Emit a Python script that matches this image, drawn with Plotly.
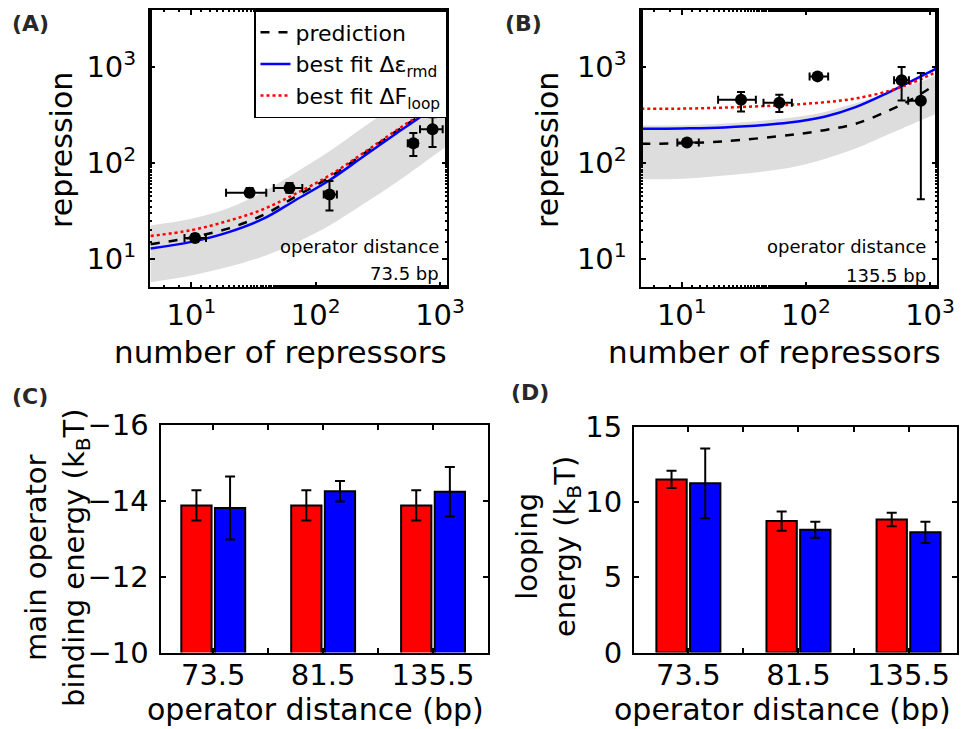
import plotly.graph_objects as go

# ---------------- data ----------------
# Panel A (operator distance 73.5 bp)
A_repressors = [10.7, 29.4, 61.5, 129, 610, 870]
A_repressors_lo = [8.8, 19, 46, 116, 550, 690]
A_repressors_hi = [13.1, 40, 78, 148, 660, 1050]
A_repression = [16.6, 49, 55, 47, 160, 224]
A_repression_lo = [15.2, 45, 49, 32, 118, 146]
A_repression_hi = [18.2, 55, 62, 65, 205, 299]

A_curve_n = [4.7, 10, 20, 38, 69, 129, 240, 447, 832, 1122]
A_pred = [14.3, 16.8, 20.9, 28.8, 44.7, 70.8, 123, 214, 367, 501]
A_pred_hi = [22.4, 26.3, 33.9, 50.1, 79.4, 132, 234, 398, 631, 794]
A_pred_lo = [5.75, 6.76, 8.32, 10.7, 14.8, 22.4, 37.2, 63.1, 112, 148]
A_fit_eps = [12.9, 15.1, 19.1, 26.3, 41.2, 66.1, 116, 204, 355, 490]
A_fit_loop = [17.4, 20.0, 25.1, 33.1, 47.9, 74.1, 126, 219, 372, 501]

# Panel B (operator distance 135.5 bp)
B_repressors = [11, 30, 61, 124, 590, 843]
B_repressors_lo = [9.2, 19.6, 45.5, 107, 513, 667]
B_repressors_hi = [13.7, 39.5, 77, 151, 676, 864]
B_repression = [163, 453, 422, 794, 725, 443]
B_repression_lo = [150, 342, 338, 740, 447, 42]
B_repression_hi = [175, 545, 513, 850, 993, 860]

B_curve_n = [4.7, 10, 22, 74, 141, 251, 468, 708, 1122]
B_pred = [158, 160, 168, 195, 219, 255, 351, 457, 661]
B_pred_hi = [245, 247, 257, 295, 339, 417, 537, 646, 813]
B_pred_lo = [67.6, 68.4, 74.1, 89.1, 110, 141, 200, 251, 324]
B_fit_eps = [226, 228, 234, 263, 302, 380, 545, 708, 955]
B_fit_loop = [366, 367, 376, 402, 427, 468, 562, 676, 881]

# Panels C and D
distances = ["73.5", "81.5", "135.5"]
C_red = [-13.88, -13.88, -13.88]
C_red_err = [0.40, 0.40, 0.40]
C_blue = [-13.81, -14.25, -14.24]
C_blue_err = [0.83, 0.27, 0.65]
D_red = [11.5, 8.73, 8.84]
D_red_err = [0.57, 0.64, 0.45]
D_blue = [11.24, 8.15, 7.98]
D_blue_err = [2.32, 0.53, 0.70]

log_ticks = [10, 100, 1000]
log_ticktext = ["10<sup>1</sup>", "10<sup>2</sup>", "10<sup>3</sup>"]

# ---------------- figure ----------------
W, H = 961, 729
FONT = "DejaVu Sans"


def px(x):
    return x / W


def py(y):
    return 1 - y / H


fig = go.Figure()


def add_repression_panel(xa, ya, n, pred, lo, hi, eps, loop, xs, xlo, xhi, ys, ylo, yhi, legend):
    fig.add_trace(go.Scatter(x=n, y=lo, mode="lines", line=dict(width=0, color="rgba(0,0,0,0)", shape="spline"),
                             showlegend=False, hoverinfo="skip", xaxis=xa, yaxis=ya))
    fig.add_trace(go.Scatter(x=n, y=hi, mode="lines", line=dict(width=0, color="rgba(0,0,0,0)", shape="spline"),
                             fill="tonexty", fillcolor="rgb(221,221,221)",
                             showlegend=False, hoverinfo="skip", xaxis=xa, yaxis=ya))
    fig.add_trace(go.Scatter(x=n, y=pred, mode="lines", name="prediction",
                             line=dict(color="black", width=2.5, dash="dash", shape="spline"),
                             showlegend=legend, xaxis=xa, yaxis=ya))
    fig.add_trace(go.Scatter(x=n, y=eps, mode="lines", name="best fit Δε<sub>rmd</sub>",
                             line=dict(color="rgb(0,0,255)", width=2.5, shape="spline"),
                             showlegend=legend, xaxis=xa, yaxis=ya))
    fig.add_trace(go.Scatter(x=n, y=loop, mode="lines", name="best fit ΔF<sub>loop</sub>",
                             line=dict(color="rgb(255,0,0)", width=2.5, dash="dot", shape="spline"),
                             showlegend=legend, xaxis=xa, yaxis=ya))
    fig.add_trace(go.Scatter(
        x=xs, y=ys, mode="markers",
        marker=dict(color="black", size=12),
        error_x=dict(type="data", symmetric=False,
                     array=[h - v for h, v in zip(xhi, xs)],
                     arrayminus=[v - l for l, v in zip(xlo, xs)],
                     color="black", thickness=2, width=4),
        error_y=dict(type="data", symmetric=False,
                     array=[h - v for h, v in zip(yhi, ys)],
                     arrayminus=[v - l for l, v in zip(ylo, ys)],
                     color="black", thickness=2, width=4),
        showlegend=False, xaxis=xa, yaxis=ya))


add_repression_panel("x", "y", A_curve_n, A_pred, A_pred_lo, A_pred_hi, A_fit_eps, A_fit_loop,
                     A_repressors, A_repressors_lo, A_repressors_hi,
                     A_repression, A_repression_lo, A_repression_hi, True)
add_repression_panel("x2", "y2", B_curve_n, B_pred, B_pred_lo, B_pred_hi, B_fit_eps, B_fit_loop,
                     B_repressors, B_repressors_lo, B_repressors_hi,
                     B_repression, B_repression_lo, B_repression_hi, False)

pos = list(range(1, len(distances) + 1))
for xa, ya, red, rerr, blue, berr in [("x3", "y3", C_red, C_red_err, C_blue, C_blue_err),
                                       ("x4", "y4", D_red, D_red_err, D_blue, D_blue_err)]:
    fig.add_trace(go.Bar(x=pos, y=red, marker=dict(color="rgb(255,0,0)", line=dict(color="black", width=2)),
                         error_y=dict(type="data", array=rerr, color="black", thickness=2, width=5),
                         showlegend=False, xaxis=xa, yaxis=ya, offsetgroup="r"))
    fig.add_trace(go.Bar(x=pos, y=blue, marker=dict(color="rgb(0,0,255)", line=dict(color="black", width=2)),
                         error_y=dict(type="data", array=berr, color="black", thickness=2, width=5),
                         showlegend=False, xaxis=xa, yaxis=ya, offsetgroup="b"))

axis_common = dict(showline=True, linecolor="black", linewidth=2, mirror="ticks",
                   ticks="inside", ticklen=5, tickwidth=1.5, tickcolor="black",
                   showgrid=False, zeroline=False, automargin=False,
                   tickfont=dict(family=FONT, size=29, color="black"))

log_x = dict(axis_common, type="log", range=[0.667, 3.056], tickvals=log_ticks, ticktext=log_ticktext,
             minor=dict(ticks="inside", ticklen=2, tickcolor="black", showgrid=False), ticklabelstandoff=1)
log_y = dict(axis_common, type="log", range=[0.71, 3.59], tickvals=log_ticks, ticktext=log_ticktext,
             minor=dict(ticks="inside", ticklen=2, tickcolor="black", showgrid=False), ticklabelstandoff=6)

bar_x_font = dict(family=FONT, size=29, color="black")

fig.update_layout(
    width=W, height=H, margin=dict(l=0, r=0, t=0, b=0, autoexpand=False),
    paper_bgcolor="white", plot_bgcolor="white",
    font=dict(family=FONT, color="black"),
    barmode="group", bargap=0.388, bargroupgap=0.1,
    xaxis=dict(log_x, domain=[px(150), px(447)], anchor="y"),
    yaxis=dict(log_y, domain=[py(287), py(10)], anchor="x"),
    xaxis2=dict(log_x, domain=[px(640.5), px(937)], anchor="y2"),
    yaxis2=dict(log_y, domain=[py(287), py(10)], anchor="x2"),
    xaxis3=dict(axis_common, domain=[px(160.5), px(488)], anchor="y3", range=[0.52, 3.5],
                tickvals=[1, 1.5, 2, 2.5, 3], ticktext=[distances[0], "", distances[1], "", distances[2]],
                tickfont=bar_x_font, ticklabelstandoff=-4),
    yaxis3=dict(axis_common, domain=[py(652.5), py(425)], anchor="x3", range=[-10, -16],
                tickvals=[-16, -14, -12, -10], ticklabelstandoff=4),
    xaxis4=dict(axis_common, domain=[px(634), px(957)], anchor="y4", range=[0.506, 3.44],
                tickvals=[1, 1.5, 2, 2.5, 3], ticktext=[distances[0], "", distances[1], "", distances[2]],
                tickfont=bar_x_font, ticklabelstandoff=-4),
    yaxis4=dict(axis_common, domain=[py(652.5), py(426.7)], anchor="x4", range=[0, 15],
                tickvals=[0, 5, 10, 15], ticklabelstandoff=4),
    legend=dict(x=px(447), xanchor="right", y=py(10), yanchor="top",
                bgcolor="white", bordercolor="black", borderwidth=1.5,
                font=dict(family=FONT, size=22, color="black"),
                tracegroupgap=0, itemwidth=30, traceorder="normal"),
)

ann = []


def text(x, y, s, size, **kw):
    d = dict(x=px(x), y=py(y), xref="paper", yref="paper", text=s, showarrow=False,
             xanchor="center", yanchor="middle",
             font=dict(family=FONT, size=size, color="black"))
    d.update(kw)
    ann.append(d)


LBL = dict(family=FONT, size=22, color="rgb(40,40,40)")
text(30, 23, "<b>(A)</b>", 22, font=LBL)
text(523, 23, "<b>(B)</b>", 22, font=LBL)
text(30, 396, "<b>(C)</b>", 22, font=LBL)
text(530, 392, "<b>(D)</b>", 22, font=LBL)

text(62, 150, "repression", 30, textangle=-90)
text(548, 150, "repression", 30, textangle=-90)
text(280, 352, "number of repressors", 31)
text(774, 352, "number of repressors", 31)

text(441, 247, "operator distance", 18, xanchor="right")
text(441, 274, "73.5 bp", 18, xanchor="right")
text(928, 247, "operator distance", 18, xanchor="right")
text(928, 275, "135.5 bp", 18, xanchor="right")

text(57, 558, "main operator<br>binding energy (k<sub>B</sub>T)", 29, textangle=-90)
text(548, 547, "looping<br>energy (k<sub>B</sub>T)", 29, textangle=-90)
text(315, 709, "operator distance (bp)", 30)
text(782, 709, "operator distance (bp)", 30)

fig.update_layout(annotations=ann)
fig.write_html("out.html")
